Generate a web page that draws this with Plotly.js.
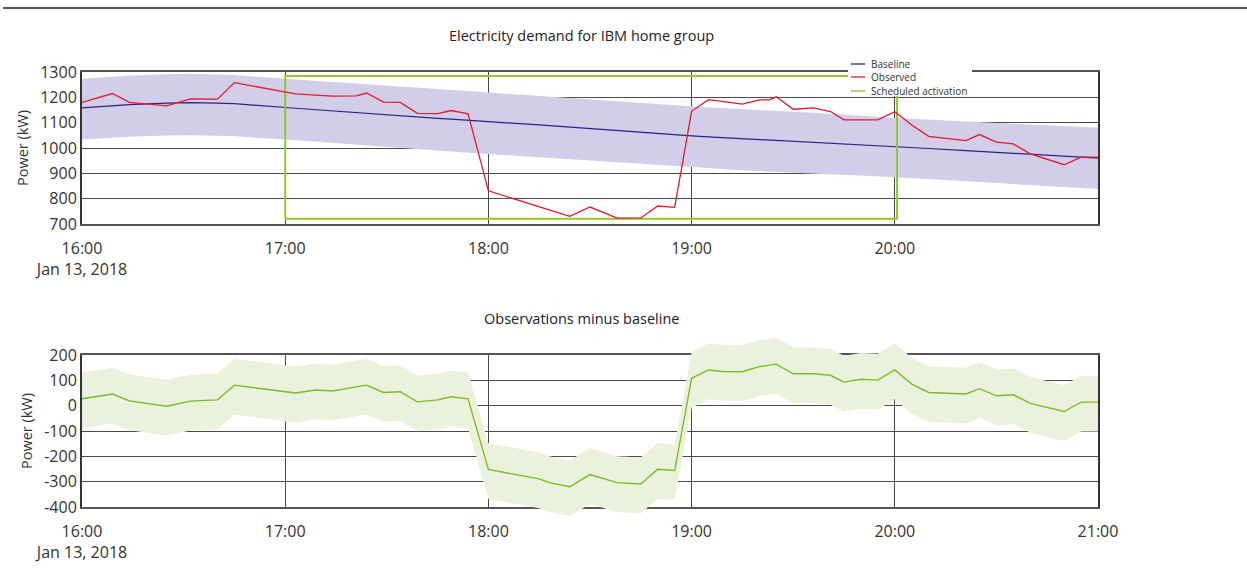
<!DOCTYPE html>
<html><head><meta charset="utf-8">
<script src="https://cdn.plot.ly/plotly-3.0.1.min.js"></script>
<style>html,body{margin:0;padding:0;background:#fff;}</style>
</head><body><div id="chart" style="width:1247px;height:569px;"></div>
<script>
// ---------------- data ----------------
const day = '2018-01-13 ';
const times = ['16:00','16:09','16:14','16:25','16:32','16:40','16:45','17:03','17:09','17:14',
  '17:21','17:24','17:29','17:34','17:39','17:45','17:49','17:54','18:00','18:15',
  '18:18','18:24','18:30','18:38','18:45','18:50','18:55','19:00','19:05','19:09',
  '19:15','19:20','19:23','19:25','19:30','19:36','19:41','19:45','19:50','19:55',
  '20:00','20:05','20:10','20:21','20:25','20:30','20:35','20:40','20:50','20:55','21:00'];
const observed = [1180,1215,1180,1166,1194,1193,1258,1214,1209,1205,
  1206,1217,1181,1180,1137,1136,1148,1135,831,768,
  756,730,767,723,724,771,766,1145,1191,1184,
  1173,1190,1190,1202,1153,1158,1144,1111,1111,1111,
  1143,1091,1046,1029,1053,1023,1016,977,934,964,964];
const baseline = [1158,1166,1171,1177,1179,1177,1175,1157,1151,1146,
  1139,1136,1131,1127,1122,1117,1114,1109,1104,1091,
  1088,1083,1077,1069,1063,1058,1053,1048,1044,1041,
  1037,1033,1031,1030,1026,1022,1018,1016,1012,1009,
  1005,1001,998,990,987,983,979,975,967,964,960];
const baselineUpper = [1273,1281,1286,1291,1293,1290,1288,1270,1265,1260,
  1254,1252,1247,1243,1238,1233,1229,1225,1219,1205,
  1203,1197,1192,1184,1178,1173,1169,1164,1160,1158,
  1153,1150,1148,1146,1143,1139,1134,1131,1127,1122,
  1118,1115,1112,1105,1102,1099,1096,1093,1086,1083,1080];
const baselineLower = [1034,1041,1044,1049,1050,1048,1046,1031,1025,1020,
  1012,1009,1004,999,995,989,986,981,976,963,
  960,955,950,943,936,932,927,923,919,916,
  912,909,907,905,902,897,895,893,891,888,
  886,882,878,869,866,862,858,854,846,842,838];
const residual = [27,46,19,-2,18,23,81,50,62,58,
  74,81,52,55,15,23,35,27,-252,-289,
  -304,-320,-272,-304,-309,-251,-256,108,141,135,
  134,154,160,164,126,126,120,93,104,101,
  141,85,52,46,67,39,43,9,-23,14,14];
const residualUpper = [131,150,123,102,122,127,185,154,166,162,
  178,185,156,159,119,127,139,131,-148,-185,
  -200,-216,-168,-200,-205,-147,-152,212,245,239,
  238,258,264,268,230,230,224,197,208,205,
  245,189,156,150,171,143,147,113,81,118,118];
const residualLower = [-89,-70,-97,-118,-98,-93,-35,-66,-54,-58,
  -42,-35,-64,-61,-101,-93,-81,-89,-368,-405,
  -420,-436,-388,-420,-425,-367,-372,-8,25,19,
  18,38,44,48,10,10,4,-23,-12,-15,
  25,-31,-64,-70,-49,-77,-73,-107,-139,-102,-102];
const activationStart = '17:00';
const activationEnd = '20:00:40';
const activationLow = 721;
const activationHigh = 1284;
const hourTicks = ['16:00','17:00','18:00','19:00','20:00','21:00'];
const dateLabel = 'Jan 13, 2018';
const powerTicks = [700,800,900,1000,1100,1200,1300];
const residualTicks = [-400,-300,-200,-100,0,100,200];
const legendLabels = ['Baseline','Observed','Scheduled activation'];
const titles = ['Electricity demand for IBM home group','Observations minus baseline'];
const yTitle = 'Power (kW)';

// ---------------- styles / geometry ----------------
const W = 1247, H = 569;
const px = v => v / W, py = v => 1 - v / H;
const plotLeft = 82, plotRight = 1098;
const topTop = 72, topBottom = 224, botTop = 355, botBottom = 507;
const ovTop = 328, ovBottom = 528;
const rMin = residualTicks[0], rMax = residualTicks[residualTicks.length - 1];
const kScale = (botBottom - botTop) / (rMax - rMin);
const ovRange = [rMin - (ovBottom - botBottom) / kScale, rMax + (botTop - ovTop) / kScale];

const FONT = '"Open Sans", sans-serif';
const cBand = 'rgb(210,206,233)', cBase = 'rgb(38,38,130)', cObs = 'rgb(228,26,43)',
      cAct = 'rgb(150,200,40)', cActLegend = 'rgb(176,214,112)',
      cRes = 'rgb(128,188,30)', cResBand = 'rgb(234,241,221)';
const grid = '#4a4a4a';
const tickFont = {family: FONT, size: 16, color: '#333'};

const X = times.map(t => day + t);
const actX = [activationStart, activationStart, activationEnd, activationEnd, activationStart].map(t => day + t);
const actY = [activationLow, activationHigh, activationHigh, activationLow, activationLow];
const tickX = hourTicks.map(h => day + h);
const tickTxt = hourTicks.map((h, i) => i === 0 ? h + '<br>' + dateLabel : h);

const traces = [
  {x: X, y: baselineLower, mode: 'lines', line: {width: 0}, hoverinfo: 'skip', xaxis: 'x', yaxis: 'y'},
  {x: X, y: baselineUpper, mode: 'lines', line: {width: 0}, fill: 'tonexty', fillcolor: cBand, hoverinfo: 'skip', xaxis: 'x', yaxis: 'y'},
  {x: X, y: baseline, mode: 'lines', name: legendLabels[0], line: {color: cBase, width: 1.2}, xaxis: 'x', yaxis: 'y'},
  {x: actX, y: actY, mode: 'lines', name: legendLabels[2], line: {color: cAct, width: 2}, xaxis: 'x', yaxis: 'y'},
  {x: X, y: observed, mode: 'lines', name: legendLabels[1], line: {color: cObs, width: 1.3}, xaxis: 'x', yaxis: 'y'},
  // carrier for the bottom frame/grid subplot (invisible)
  {x: X, y: residual, mode: 'lines', line: {width: 0}, opacity: 0, hoverinfo: 'skip', xaxis: 'x2', yaxis: 'y2'},
  {x: X, y: residualLower, mode: 'lines', line: {width: 0}, hoverinfo: 'skip', xaxis: 'x3', yaxis: 'y3'},
  {x: X, y: residualUpper, mode: 'lines', line: {width: 0}, fill: 'tonexty', fillcolor: cResBand, hoverinfo: 'skip', xaxis: 'x3', yaxis: 'y3'},
  {x: X, y: residual, mode: 'lines', line: {color: cRes, width: 1.4}, xaxis: 'x3', yaxis: 'y3'}
];

const xBase = {
  type: 'date', domain: [px(plotLeft), px(plotRight)], range: [day + hourTicks[0], day + hourTicks[hourTicks.length - 1]],
  tickmode: 'array', showgrid: true, gridcolor: grid, gridwidth: 1, showline: true, mirror: true, linecolor: '#555', linewidth: 2,
  ticks: '', tickfont: tickFont, ticklabelstandoff: 9, zeroline: false, automargin: false, fixedrange: true
};
const yBase = {
  showgrid: true, gridcolor: grid, gridwidth: 1, showline: true, mirror: true, linecolor: '#333', linewidth: 2,
  ticks: '', tickfont: tickFont, zeroline: false, automargin: false, fixedrange: true,
  title: {text: yTitle, font: {family: FONT, size: 14.5, color: '#333'}, standoff: 8}
};

// legend drawn by hand: white box + short line samples (shapes above the plot) + text annotations
const legendColors = [cBase, cObs, cActLegend];
const legendY = [64, 77, 91];
const legendShapes = [{type: 'rect', xref: 'paper', yref: 'paper', x0: px(848), x1: px(972), y0: py(96), y1: py(56),
  fillcolor: '#ffffff', line: {width: 0}, layer: 'above'}];
const legendAnn = [];
legendLabels.forEach((lab, i) => {
  legendShapes.push({type: 'line', xref: 'paper', yref: 'paper', x0: px(851), x1: px(865), y0: py(legendY[i]), y1: py(legendY[i]),
    line: {color: legendColors[i], width: i === 2 ? 2 : 1.3}, layer: 'above'});
  legendAnn.push({xref: 'paper', yref: 'paper', x: px(869), y: py(legendY[i]), xanchor: 'left', yanchor: 'middle',
    text: lab, showarrow: false, font: {family: FONT, size: 10, color: '#333'}});
});

const layout = {
  width: W, height: H, margin: {l: 0, r: 0, t: 0, b: 0}, paper_bgcolor: '#fff', plot_bgcolor: 'rgba(0,0,0,0)',
  font: {family: FONT, color: '#333'}, showlegend: false,
  xaxis: Object.assign({}, xBase, {anchor: 'y', tickvals: tickX.slice(0, 5), ticktext: tickTxt.slice(0, 5)}),
  yaxis: Object.assign({}, yBase, {anchor: 'x', domain: [py(topBottom), py(topTop)], range: [powerTicks[0], powerTicks[powerTicks.length-1]],
    tickvals: powerTicks, ticktext: powerTicks.map(String)}),
  xaxis2: Object.assign({}, xBase, {anchor: 'y2', tickvals: tickX, ticktext: tickTxt}),
  yaxis2: Object.assign({}, yBase, {anchor: 'x2', domain: [py(botBottom), py(botTop)], range: [rMin, rMax],
    tickvals: residualTicks, ticktext: residualTicks.map(String)}),
  xaxis3: {anchor: 'y3', type: 'date', domain: [px(plotLeft), px(plotRight)], range: [day + hourTicks[0], day + hourTicks[hourTicks.length - 1]], visible: false, fixedrange: true},
  yaxis3: {anchor: 'x3', domain: [py(ovBottom), py(ovTop)], range: ovRange, visible: false, fixedrange: true},
  shapes: [
    {type: 'line', xref: 'paper', yref: 'paper', x0: px(3), x1: 1, y0: py(8), y1: py(8), line: {color: '#555', width: 2}}
  ].concat(legendShapes),
  annotations: [
    {xref: 'paper', yref: 'paper', x: px(581.5), y: py(35), xanchor: 'center', yanchor: 'middle', text: titles[0], showarrow: false,
      font: {family: FONT, size: 14.5, color: '#222'}},
    {xref: 'paper', yref: 'paper', x: px(581.5), y: py(318), xanchor: 'center', yanchor: 'middle', text: titles[1], showarrow: false,
      font: {family: FONT, size: 14.5, color: '#222'}}
  ].concat(legendAnn)
};

Plotly.newPlot('chart', traces, layout, {displayModeBar: false, staticPlot: true});
</script></body></html>
